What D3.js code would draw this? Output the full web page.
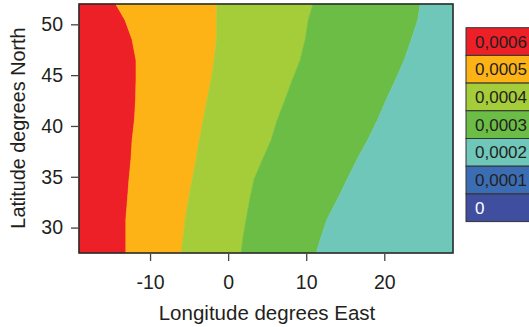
<!DOCTYPE html>
<html>
<head>
<meta charset="utf-8">
<script src="https://cdn.jsdelivr.net/npm/d3@7"></script>
<style>
  body { margin: 0; background: #fff; }
  svg { font-family: "Liberation Sans", Arial, sans-serif; }
</style>
</head>
<body>
<div id="chart"></div>
<script>
const lats = [52, 50.4, 48.5, 46.5, 44.5, 42.6, 40.6, 38.6, 36.7, 34.7, 32.7, 30.8, 28.8, 27.5];
// longitude of each band edge at those latitudes
const edgeRedOrange = [-14.4, -13.2, -12.3, -11.8, -11.8, -11.85, -12.0, -12.3, -12.45, -12.7, -12.9, -13.1, -13.1, -13.1];
const edgeOrangeLime = [-1.45, -1.47, -1.5, -1.8, -2.2, -2.7, -3.2, -3.7, -4.1, -4.6, -5.1, -5.5, -5.8, -6.0];
const edgeLimeGreen = [10.86, 10.26, 9.87, 9.23, 8.2, 7.3, 6.3, 5.5, 4.4, 3.3, 2.75, 2.3, 1.86, 1.67];
const edgeGreenTeal = [24.6, 24.27, 23.46, 22.56, 21.41, 20.26, 19.14, 17.86, 16.5, 15.22, 13.94, 12.65, 11.79, 11.28];

const lonRange = [-19.1, 28.8];
const latRange = [27.5, 52];

const xTicks = [-10, 0, 10, 20];
const yTicks = [30, 35, 40, 45, 50];

const legendLabels = ['0,0006', '0,0005', '0,0004', '0,0003', '0,0002', '0,0001', '0'];
const legendColors = ['#ee2027', '#fdb316', '#a5cd39', '#6cbd45', '#6fc7ba', '#3b6db4', '#3f4e9f'];

const width = 529;
const height = 327;
const plot = { left: 79, right: 453, top: 4, bottom: 253 };

const svg = d3.select('#chart')
  .append('svg')
  .attr('width', width)
  .attr('height', height);

const x = d3.scaleLinear().domain(lonRange).range([plot.left, plot.right]);
const y = d3.scaleLinear().domain(latRange).range([plot.bottom, plot.top]);

// band i sits between edge i-1 and edge i
const leftEdge = lats.map(() => lonRange[0]);
const rightEdge = lats.map(() => lonRange[1]);
const edges = [leftEdge, edgeRedOrange, edgeOrangeLime, edgeLimeGreen, edgeGreenTeal, rightEdge];

const area = d3.area()
  .y((d, i) => y(lats[i]))
  .x0((d) => x(d[0]))
  .x1((d) => x(d[1]));

for (let b = 0; b < edges.length - 1; b++) {
  const rows = lats.map((lat, i) => [edges[b][i], edges[b + 1][i]]);
  svg.append('path')
    .datum(rows)
    .attr('fill', legendColors[b])
    .attr('stroke', legendColors[b])
    .attr('stroke-width', 0.6)
    .attr('d', area);
}

svg.append('rect')
  .attr('x', plot.left)
  .attr('y', plot.top)
  .attr('width', plot.right - plot.left)
  .attr('height', plot.bottom - plot.top)
  .attr('fill', 'none')
  .attr('stroke', '#2b2b2b')
  .attr('stroke-width', 1.6);

const xAxis = svg.append('g')
  .attr('transform', `translate(0, ${plot.bottom + 1})`)
  .call(d3.axisBottom(x).tickValues(xTicks).tickSize(7).tickPadding(14).tickFormat(d3.format('d')));
const yAxis = svg.append('g')
  .attr('transform', `translate(${plot.left - 1}, 0)`)
  .call(d3.axisLeft(y).tickValues(yTicks).tickSize(7).tickPadding(8).tickFormat(d3.format('d')));

[xAxis, yAxis].forEach((g) => {
  g.select('.domain').remove();
  g.selectAll('.tick line').attr('stroke', '#444').attr('stroke-width', 1.3);
  g.selectAll('.tick text')
    .attr('fill', '#231f20')
    .style('font-size', '19.5px')
    .style('font-family', '"Liberation Sans", Arial, sans-serif');
});
xAxis.selectAll('.tick text').text((d) => (d < 0 ? '-' + Math.abs(d) : d));

svg.append('text')
  .attr('x', (plot.left + plot.right) / 2 + 1)
  .attr('y', 320)
  .attr('text-anchor', 'middle')
  .attr('fill', '#231f20')
  .style('font-size', '20.5px')
  .text('Longitude degrees East');

svg.append('text')
  .attr('transform', 'translate(25, 128) rotate(-90)')
  .attr('text-anchor', 'middle')
  .attr('fill', '#231f20')
  .style('font-size', '19.8px')
  .text('Latitude degrees North');

// legend
const legendX = 466;
const legendY = 27.7;
const cellH = 27.7;
const legend = svg.append('g');
legendLabels.forEach((label, i) => {
  legend.append('rect')
    .attr('x', legendX)
    .attr('y', legendY + i * cellH)
    .attr('width', 80)
    .attr('height', cellH)
    .attr('fill', legendColors[i])
    .attr('stroke', '#333')
    .attr('stroke-width', 1);
  legend.append('text')
    .attr('x', legendX + 9)
    .attr('y', legendY + i * cellH + cellH / 2 + 6)
    .attr('fill', i === legendLabels.length - 1 ? '#fff' : '#231f20')
    .style('font-size', '17px')
    .text(label);
});
</script>
</body>
</html>
